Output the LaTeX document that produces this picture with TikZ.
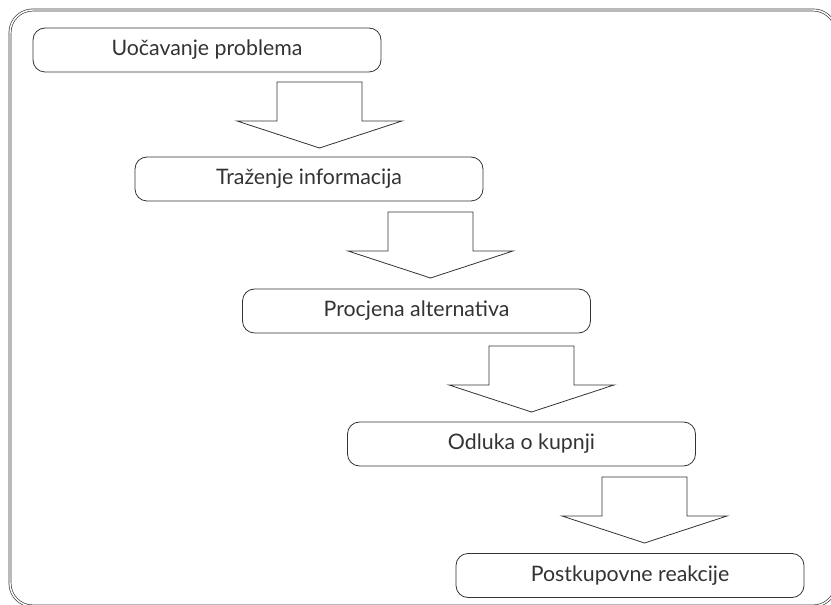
\documentclass[tikz,border=0pt]{standalone}
\usepackage{fontspec}
\setmainfont{Lato}
\definecolor{linegray}{HTML}{333333}
\definecolor{framegray}{HTML}{3A3A3A}
\begin{document}
\begin{tikzpicture}[x=0.75pt,y=-0.75pt,
  stepbox/.style={draw=linegray, line width=0.6pt, rounded corners=9pt,
    minimum width=261pt, minimum height=33pt, inner sep=0pt,
    text=linegray, font=\fontsize{16}{19}\selectfont},
  blockarrow/.style={draw=linegray, line width=0.6pt, fill=white, line join=miter}
]
\useasboundingbox (0,0) rectangle (831,605);
\clip (0,0) rectangle (831,605);
% outer frame
\draw[framegray, line width=0.5pt, double=white, double distance=1.1pt, rounded corners=17pt]
  (10,10) rectangle (836,606);
% steps
\node[stepbox] (b1) at (207,50)    {Uočavanje problema};
\node[stepbox] (b2) at (309,179)   {Traženje informacija};
\node[stepbox] (b3) at (416.5,311) {Procjena alternativa};
\node[stepbox] (b4) at (521.5,444) {Odluka o kupnji};
\node[stepbox] (b5) at (630,575.5) {Postkupovne reakcije};
% block arrows (top centre of shaft)
\coordinate (a1) at (319.5,82);
\coordinate (a2) at (430.5,212);
\coordinate (a3) at (531.5,346);
\coordinate (a4) at (644.5,477);
\foreach \a in {a1,a2,a3,a4}{
  \draw[blockarrow, shift={(\a)}]
    (-42.5,0) -- (42.5,0) -- (42.5,39) -- (82.5,39) -- (0,66) -- (-82.5,39) -- (-42.5,39) -- cycle;
}
\end{tikzpicture}
\end{document}
